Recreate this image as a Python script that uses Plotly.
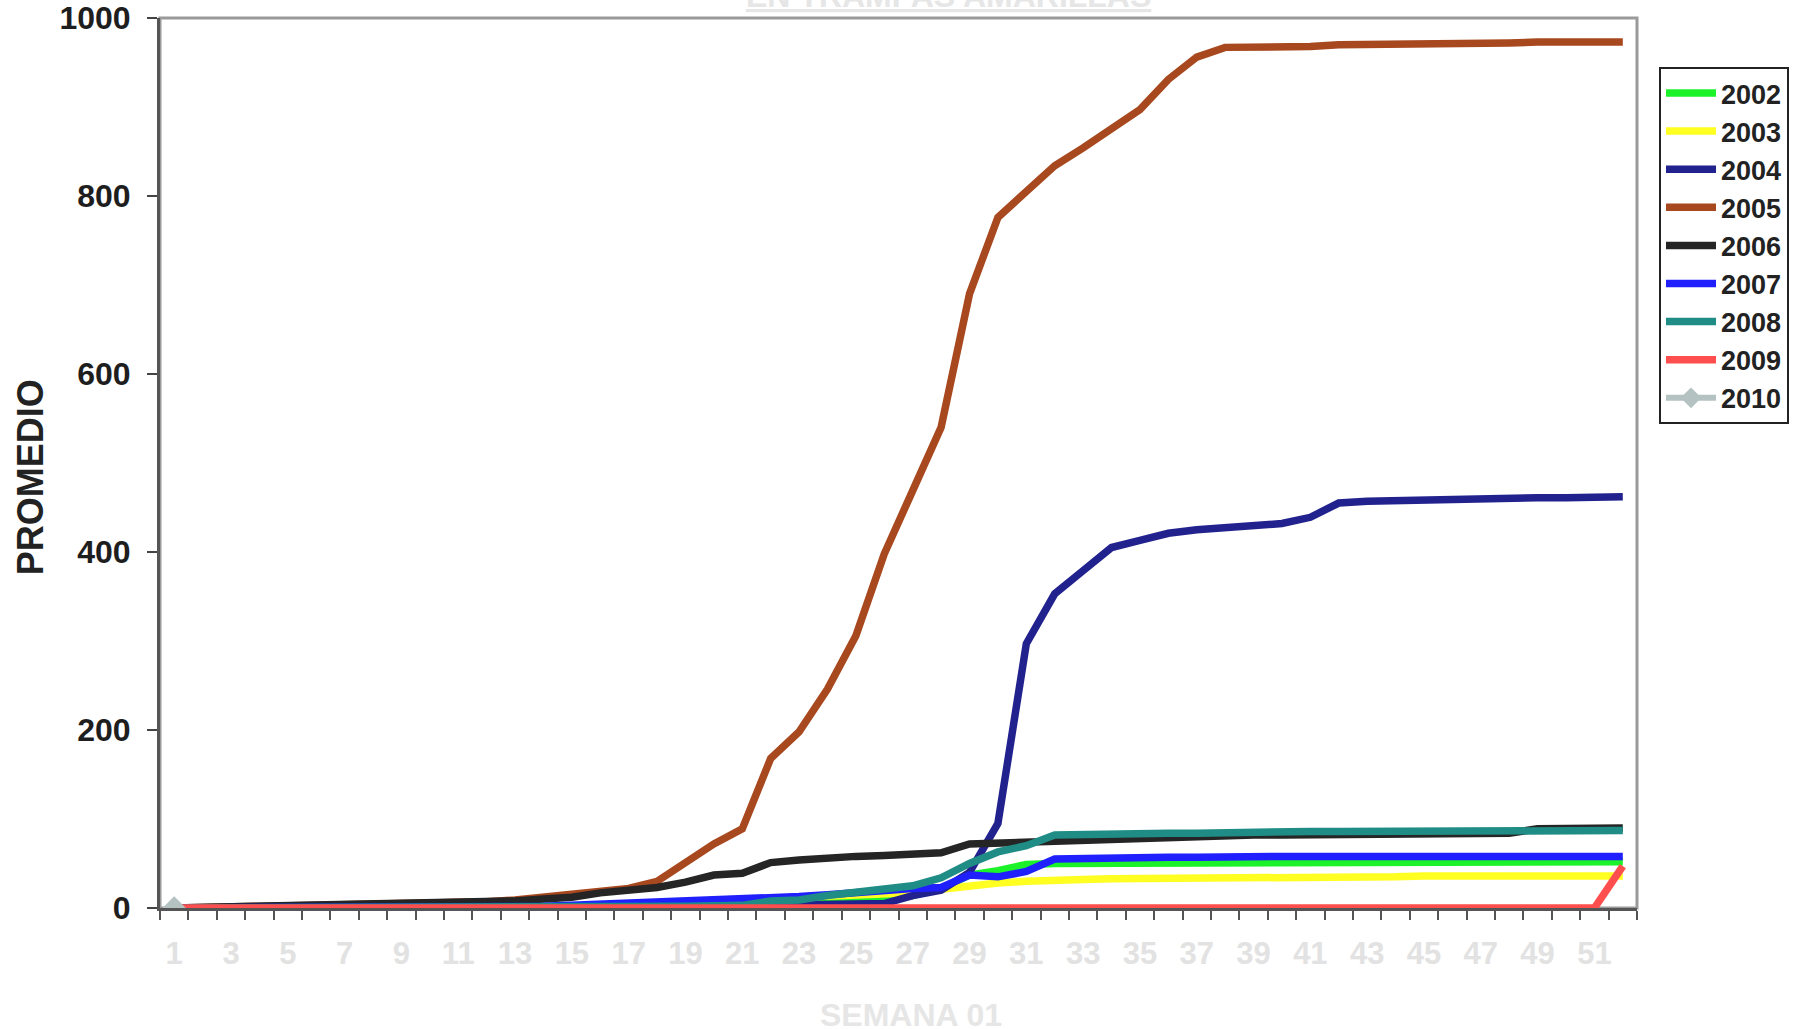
import plotly.graph_objects as go

weeks = list(range(1, 53))
tick_weeks = list(range(1, 52, 2))
years = ["2002", "2003", "2004", "2005", "2006", "2007", "2008", "2009", "2010"]

s2002 = [0, 0, 0, 0, 0, 0, 0, 0, 0.5, 0.5, 0.5, 0.5, 1, 1, 1, 1, 1.5, 1.5, 2, 2,
         3, 5, 6, 8, 10, 12, 14, 22, 37, 42, 49, 50, 50, 51, 51, 52, 52, 52, 52, 52,
         52, 52, 52, 52, 52, 52, 52, 52, 52, 52, 52, 52]
s2003 = [0, 0, 0, 0, 0, 0, 0, 0, 0.5, 0.5, 0.5, 1, 1, 1, 1.5, 2, 2.5, 3, 7, 8,
         10, 12, 13, 14, 14, 14, 17, 21, 25, 28, 30, 32, 32, 33, 33, 33, 33, 34, 34, 34,
         34, 34, 35, 35, 36, 36, 36, 36, 36, 36, 36, 36]
s2004 = [0, 0, 0, 0, 0, 0, 0, 0, 0, 0, 0, 0, 0, 0, 0.5, 1, 1, 1.5, 2, 2,
         2.5, 3, 3, 3.5, 4, 5, 14, 20, 40, 95, 297, 353, 379, 405, 413, 421, 425, 427, 428, 432,
         439, 455, 457, 458, 459, 460, 460, 461, 461, 461, 461, 462]
s2005 = [0, 0.5, 1, 2, 3, 4, 4.5, 5, 5, 5.5, 6, 7, 9, 12, 16, 19, 22, 30, 52, 72,
         89, 168, 198, 246, 306, 398, 469, 540, 690, 776, 805, 834, 854, 876, 897, 931, 956, 967, 967, 967,
         968, 970, 970, 970, 971, 971, 972, 972, 973, 973, 973, 973]
s2006 = [0, 0.5, 1, 1.5, 2, 3, 3.5, 4, 4, 4.5, 5, 5.5, 8, 10, 12, 17, 20, 23, 29, 37,
         39, 51, 54, 57, 58, 59, 60, 62, 72, 73, 75, 77, 78, 79, 79, 80, 81, 81, 82, 82,
         82, 82, 82, 83, 83, 83, 83, 84, 89, 90, 90, 90]
s2007 = [0, 0, 0, 0.5, 0.5, 0.5, 1, 1, 1, 1, 1.5, 1.5, 2, 2, 3, 4, 5, 6, 7, 8,
         9, 12, 13, 15, 18, 21, 22, 23, 37, 35, 41, 55, 56, 56, 57, 57, 57, 58, 58, 58,
         58, 58, 58, 58, 58, 58, 58, 58, 58, 58, 58, 58]
s2008 = [0, 0, 0, 0, 0, 0, 0, 0, 0.5, 0.5, 0.5, 0.5, 1, 1, 1, 1.5, 1.5, 2, 2, 2.5,
         3, 8, 9, 14, 18, 22, 25, 34, 50, 63, 70, 82, 83, 84, 84, 84, 84, 85, 85, 85,
         86, 86, 86, 86, 86, 86, 86, 87, 87, 87, 87, 87]
s2009 = [0] * 51 + [47]
s2010 = [0] + [None] * 51

series = [s2002, s2003, s2004, s2005, s2006, s2007, s2008, s2009, s2010]
colors = ["#1cf22a", "#ffff22", "#22228e", "#a8481e", "#252525",
          "#2020ff", "#1f8d86", "#ff4e4e", "#b4c2c2"]

fig = go.Figure()
for name, vals, col in zip(years, series, colors):
    if name == "2010":
        fig.add_trace(go.Scatter(
            x=weeks, y=vals, name=name, mode="lines+markers",
            line=dict(color=col, width=6),
            marker=dict(symbol="diamond", size=18, color=col),
        ))
    else:
        fig.add_trace(go.Scatter(
            x=weeks, y=vals, name=name, mode="lines",
            line=dict(color=col, width=7.5),
        ))

FONT = "Liberation Sans, Arial, sans-serif"

fig.update_layout(
    width=1803, height=1029,
    margin=dict(l=160, r=166, t=18, b=121, autoexpand=False),
    paper_bgcolor="white", plot_bgcolor="white",
    showlegend=True,
    legend=dict(
        x=1.0149, y=0.945, xanchor="left", yanchor="top",
        font=dict(family=FONT, size=27, color="#222222", weight="bold"),
        bordercolor="#222222", borderwidth=2, bgcolor="white",
        tracegroupgap=0, itemwidth=50,
    ),
    xaxis=dict(
        range=[0.5, 52.5], tickmode="array", tickvals=tick_weeks,
        ticktext=[str(w) for w in tick_weeks], ticks="",
        ticklabelstandoff=16, automargin=False,
        tickfont=dict(family=FONT, size=31, color="#e2e2e2", weight="bold"),
        showgrid=False, zeroline=False,
        showline=True, linecolor="#555555", linewidth=3,
        minor=dict(tick0=0.5, dtick=1, ticks="outside", ticklen=9,
                   tickcolor="#555555", tickwidth=2, showgrid=False),
    ),
    yaxis=dict(
        range=[0, 1000], tickmode="array", tickvals=[0, 200, 400, 600, 800, 1000],
        ticks="outside", ticklen=10, tickcolor="#444444", tickwidth=2,
        ticklabelstandoff=10, automargin=False,
        tickfont=dict(family=FONT, size=32, color="#1e1e1e", weight="bold"),
        showgrid=False, zeroline=False,
        showline=True, linecolor="#555555", linewidth=3,
    ),
    shapes=[dict(type="rect", xref="paper", yref="paper", x0=0, x1=1, y0=0, y1=1,
                 line=dict(color="#9a9a9a", width=3), layer="below")],
    annotations=[
        dict(text="<u>EN TRAMPAS AMARILLAS</u>", xref="paper", yref="paper",
             x=0.534, y=1.002, xanchor="center", yanchor="bottom", showarrow=False,
             font=dict(family=FONT, size=32, color="#e6e6e6", weight="bold")),
        dict(text="SEMANA 01", xref="paper", yref="paper",
             x=0.5085, y=-0.12, xanchor="center", yanchor="middle", showarrow=False,
             font=dict(family=FONT, size=32, color="#e6e6e6", weight="bold")),
        dict(text="PROMEDIO", xref="paper", yref="paper", textangle=-90,
             x=-0.088, y=0.484, xanchor="center", yanchor="middle", showarrow=False,
             font=dict(family=FONT, size=36, color="#222222", weight="bold")),
    ],
)

fig.write_html("out.html",
               config={"displayModeBar": False},
               post_script="document.body.style.margin='0';document.body.style.padding='0';")
